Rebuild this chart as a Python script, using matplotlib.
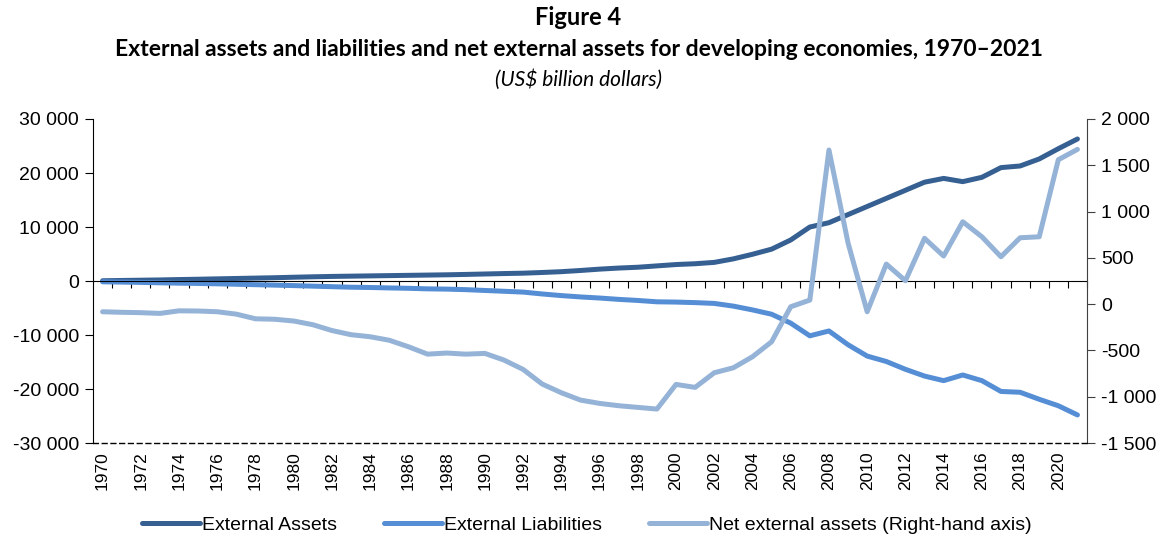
import matplotlib.pyplot as plt
from matplotlib.ticker import FuncFormatter

plt.rcParams["font.family"] = ["Liberation Sans", "DejaVu Sans"]

years = list(range(1970, 2022))

# US$ billion
assets = [50, 100, 150, 200, 270, 330, 400, 470, 540, 610,
          700, 780, 850, 900, 950, 1000, 1050, 1100, 1150, 1220,
          1300, 1380, 1450, 1580, 1730, 1950, 2200, 2400, 2550, 2800,
          3050, 3200, 3450, 4100, 4950, 5900, 7600, 10000, 10800, 12300,
          13800, 15300, 16800, 18300, 19000, 18400, 19200, 21000, 21300, 22600,
          24500, 26300]
liabilities = [-150, -200, -260, -330, -400, -450, -520, -600, -680, -760,
               -850, -950, -1050, -1150, -1200, -1280, -1350, -1450, -1500, -1600,
               -1750, -1900, -2050, -2400, -2700, -2950, -3150, -3400, -3600, -3850,
               -3900, -4000, -4150, -4650, -5350, -6150, -7800, -10150, -9250, -11800,
               -13900, -14900, -16350, -17600, -18450, -17400, -18450, -20450, -20600, -21900,
               -23100, -24800]
net = [-82, -88, -92, -100, -72, -74, -82, -108, -158, -163,
       -182, -222, -285, -330, -352, -390, -460, -540, -528, -540,
       -532, -604, -705, -863, -957, -1036, -1072, -1097, -1115, -1133,
       -867, -899, -741, -687, -568, -406, -28, 44, 1665, 660,
       -82, 433, 253, 711, 520, 890, 728, 512, 717, 728,
       1560, 1672]

c_assets = "#376092"
c_liab = "#558ED5"
c_net = "#95B3D7"


def space_thousands(v, pos):
    s = f"{abs(int(round(v))):,}".replace(",", " ")
    return "-" + s if v < 0 else s


fig = plt.figure(figsize=(11.57, 5.37), dpi=100)
ax = fig.add_axes([0.0804, 0.175, 0.8591, 0.6034])

l1, = ax.plot(years, assets, color=c_assets, lw=3.6, solid_capstyle="round",
              solid_joinstyle="round", label="External Assets")
l2, = ax.plot(years, liabilities, color=c_liab, lw=3.6, solid_capstyle="round",
              solid_joinstyle="round", label="External Liabilities")

ax.set_xlim(1969.5, 2021.5)
ax.set_ylim(-30000, 30000)
ax.set_yticks(range(-30000, 30001, 10000))
ax.yaxis.set_major_formatter(FuncFormatter(space_thousands))
ax.tick_params(axis="y", direction="out", length=6, labelsize=14, pad=4)

# category axis crossing at zero, ticks between categories
ax.spines["bottom"].set_position(("data", 0))
ax.set_xticks([y + 0.5 for y in years])
ax.tick_params(axis="x", direction="out", length=5, labelbottom=False)
ax.spines["top"].set_visible(False)
ax.spines["right"].set_visible(False)

# year labels along the bottom edge
sec = ax.secondary_xaxis("bottom")
sec.set_xticks(years[::2])
sec.tick_params(length=0, labelsize=12.5, labelrotation=90, pad=6)
sec.spines["bottom"].set_visible(False)

ax2 = ax.twinx()
l3, = ax2.plot(years, net, color=c_net, lw=3.6, solid_capstyle="round",
               solid_joinstyle="round", label="Net external assets (Right-hand axis)")
ax2.set_ylim(-1500, 2000)
ax2.set_yticks(range(-1500, 2001, 500))
ax2.yaxis.set_major_formatter(FuncFormatter(space_thousands))
ax2.tick_params(axis="y", direction="out", length=6, labelsize=14, pad=4,
                color="#404040")
ax2.spines["right"].set_color("#404040")
ax2.spines["top"].set_visible(False)
ax2.spines["left"].set_visible(False)
ax2.spines["bottom"].set_linestyle((0, (3.5, 2.8)))
ax2.spines["bottom"].set_linewidth(1)

fig.text(0.5, 0.9665, "Figure 4", ha="center", va="center",
         fontsize=17, fontweight="bold", family="Lato")
fig.text(0.5, 0.907,
         "External assets and liabilities and net external assets for developing economies, 1970\u20132021",
         ha="center", va="center", fontsize=16.5, fontweight="bold", family="Lato")
fig.text(0.5, 0.851, "(US$ billion dollars)", ha="center", va="center",
         fontsize=15, style="italic", family="Lato")

fig.legend(handles=[l1, l2, l3], loc="center", bbox_to_anchor=(0.507, 0.022),
           ncol=3, frameon=False, fontsize=14, handlelength=3,
           handletextpad=0.1, columnspacing=2.4)

fig.savefig("out.png", dpi=100)
